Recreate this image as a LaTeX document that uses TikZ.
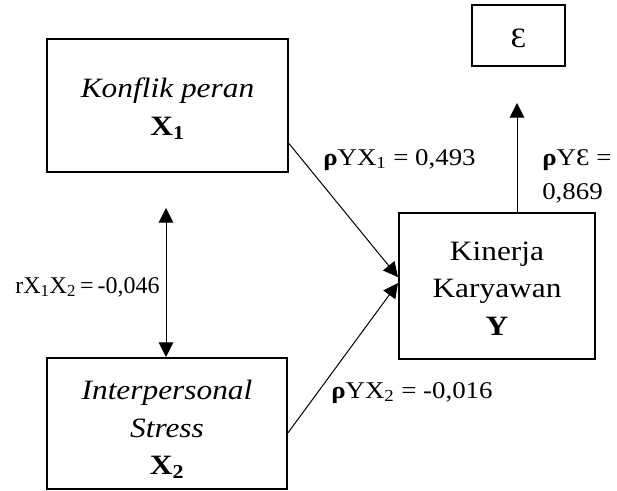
\documentclass[tikz,border=0pt]{standalone}
\usepackage{fontspec}
\setmainfont[FakeStretch=1.12]{Liberation Serif}
\newfontfamily\lblfont[FakeStretch=1.12]{Liberation Serif}
\newfontfamily\plainlbl{Liberation Serif}
\usetikzlibrary{arrows.meta,calc}
\begin{document}
\begin{tikzpicture}[x=0.75pt,y=-0.75pt,
  box/.style={draw,line width=1.5pt,inner sep=0pt},
  txt/.style={inner sep=0pt,align=center,font=\fontsize{21}{28.2}\selectfont},
  lbl/.style={font=\lblfont\fontsize{18}{22}\selectfont,inner sep=0pt,anchor=west},
  arr/.style={line width=0.75pt,-{Triangle[length=11pt,width=11pt]}},
  darr/.style={line width=0.75pt,{Triangle[length=11pt,width=11pt]}-{Triangle[length=11pt,width=11pt]}}]
\useasboundingbox (0,0) rectangle (617,491);
\node[box,minimum width=180.75pt,minimum height=99.75pt] (X1) at (167.5,105.5) {};
\node[box,minimum width=180pt,minimum height=98.25pt] (X2) at (167,423.5) {};
\node[box,minimum width=147pt,minimum height=109.5pt] (Y) at (497,286) {};
\node[box,minimum width=69.75pt,minimum height=45.75pt] (E) at (518.5,35.5) {};
\node[txt] (tX1) at ([yshift=-3.5*0.75pt]X1.center) {\textit{Konflik peran}\\\textbf{X\textsubscript{1}}};
\node[txt] (tX2) at ([yshift=-6*0.75pt]X2.center) {\textit{Interpersonal}\\\textit{Stress}\\\textbf{X\textsubscript{2}}};
\node[txt] (tY) at ([yshift=-2.5*0.75pt]Y.center) {Kinerja\\Karyawan\\\textbf{Y}};
\node[txt] (tE) at ([yshift=-2.5*0.75pt]E.center) {Ɛ};
\coordinate (c1) at (166,208);
\coordinate (e1) at (517,103);
\draw[arr] ($(X1.south east)!0.218!(X1.north east)$) -- ($(Y.south west)!0.56!(Y.north west)$);
\draw[arr] ($(X2.south east)!0.43!(X2.north east)$) -- ($(Y.south west)!0.52!(Y.north west)$);
\draw[darr] (c1) -- (c1 |- X2.north);
\draw[arr] (e1 |- Y.north) -- (e1);
\node[lbl] (l1) at (323,160) {\textbf{ρ}YX\textsubscript{1} = 0,493};
\node[lbl] (l2) at (542,160) {\textbf{ρ}YƐ =};
\node[lbl] (l3) at (542,193) {0,869};
\node[lbl,font=\plainlbl\fontsize{18}{22}\selectfont,anchor=center] (l4) at (87.5,287) {rX\textsubscript{1}X\textsubscript{2}\,=\,-0,046};
\node[lbl] (l5) at (331,393) {\textbf{ρ}YX\textsubscript{2} = -0,016};
\end{tikzpicture}
\end{document}
